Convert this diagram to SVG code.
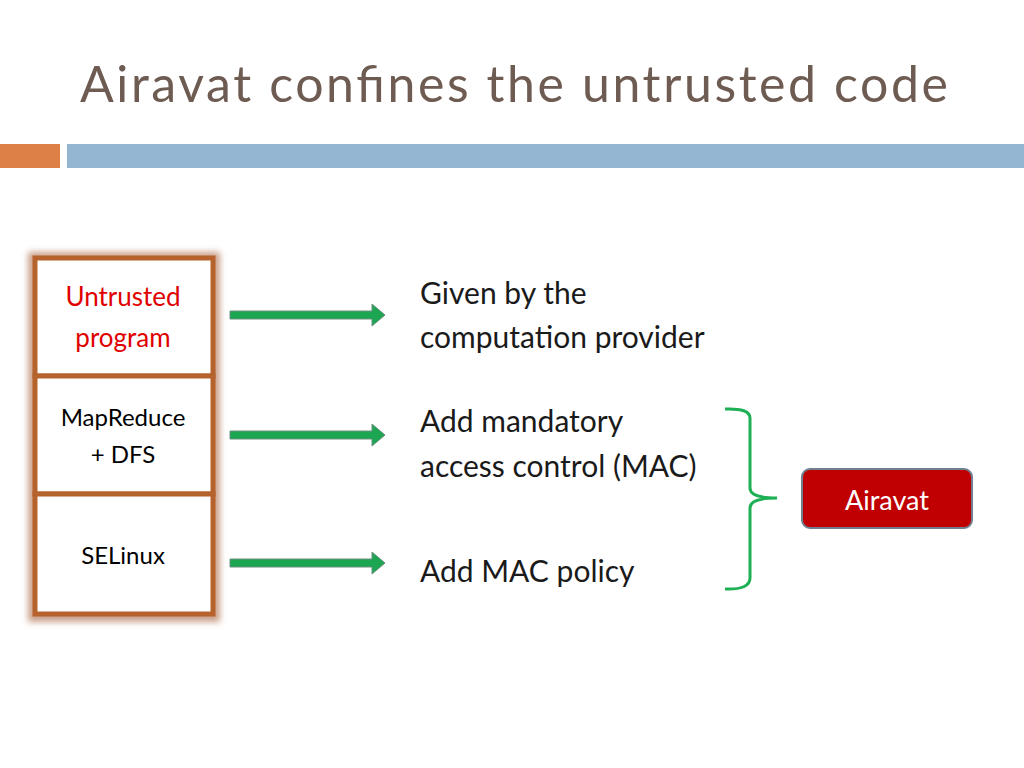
<svg xmlns="http://www.w3.org/2000/svg" width="1024" height="768" viewBox="0 0 1024 768">
<defs>
<style>
text{font-family:Lato,"Open Sans",sans-serif}
.box{fill:#fff;stroke:#B5622C;stroke-width:5}
.lbl{font-size:24px;fill:#000;text-anchor:middle}
.rt{font-size:30px;fill:#1a1a1a}
.arr{fill:#1DA652;stroke:#6a8f80;stroke-width:1}
</style>
<filter id="sh" x="-20%" y="-20%" width="140%" height="140%"><feGaussianBlur stdDeviation="3"/></filter>
</defs>
<rect width="1024" height="768" fill="#fff"/>
<text x="80" y="102" font-size="50" fill="#6E5B52" textLength="868">Airavat confines the untrusted code</text>
<rect x="0" y="144" width="60" height="24" fill="#DD8047"/>
<rect x="67" y="144" width="957" height="24" fill="#94B6D2"/>
<g id="stack">
<rect x="28" y="252" width="192" height="370" fill="#caa08a" filter="url(#sh)"/>
<g id="untrusted"><rect class="box" x="35" y="258" width="178" height="118"/>
<text class="lbl" x="123" y="306" fill="#E00000" style="fill:#E00000;font-size:26px">Untrusted</text>
<text class="lbl" x="123" y="347" style="fill:#E00000;font-size:26px">program</text></g>
<g id="mapreduce"><rect class="box" x="35" y="376" width="178" height="118"/>
<text class="lbl" x="123" y="426">MapReduce</text>
<text class="lbl" x="123" y="463">+ DFS</text></g>
<g id="selinux"><rect class="box" x="35" y="494" width="178" height="120"/>
<text class="lbl" x="123" y="564">SELinux</text></g>
</g>
<g id="connectors">
<path class="arr" d="M230,311 H372 V304 L385,315 L372,326 V319 H230 Z"/>
<path class="arr" d="M230,431 H372 V424 L385,435 L372,446 V439 H230 Z"/>
<path class="arr" d="M230,559 H372 V552 L385,563 L372,574 V567 H230 Z"/>
<path d="M725,409 Q750,408 750,418 V488 Q750,498 777,498 Q750,498 750,508 V578 Q750,590 725,589" fill="none" stroke="#1DB055" stroke-width="3"/>
</g>
<g id="texts">
<text class="rt" x="420" y="304">Given by the</text>
<text class="rt" x="420" y="348">computation provider</text>
<text class="rt" x="420" y="432">Add mandatory</text>
<text class="rt" x="420" y="477">access control (MAC)</text>
<text class="rt" x="420" y="582">Add MAC policy</text>
</g>
<g id="airavat"><rect x="802" y="469" width="170" height="59" rx="8" fill="#C00000" stroke="#6f7f8f" stroke-width="2"/>
<text x="887" y="510" font-size="27" fill="#fff" text-anchor="middle">Airavat</text></g>
</svg>
